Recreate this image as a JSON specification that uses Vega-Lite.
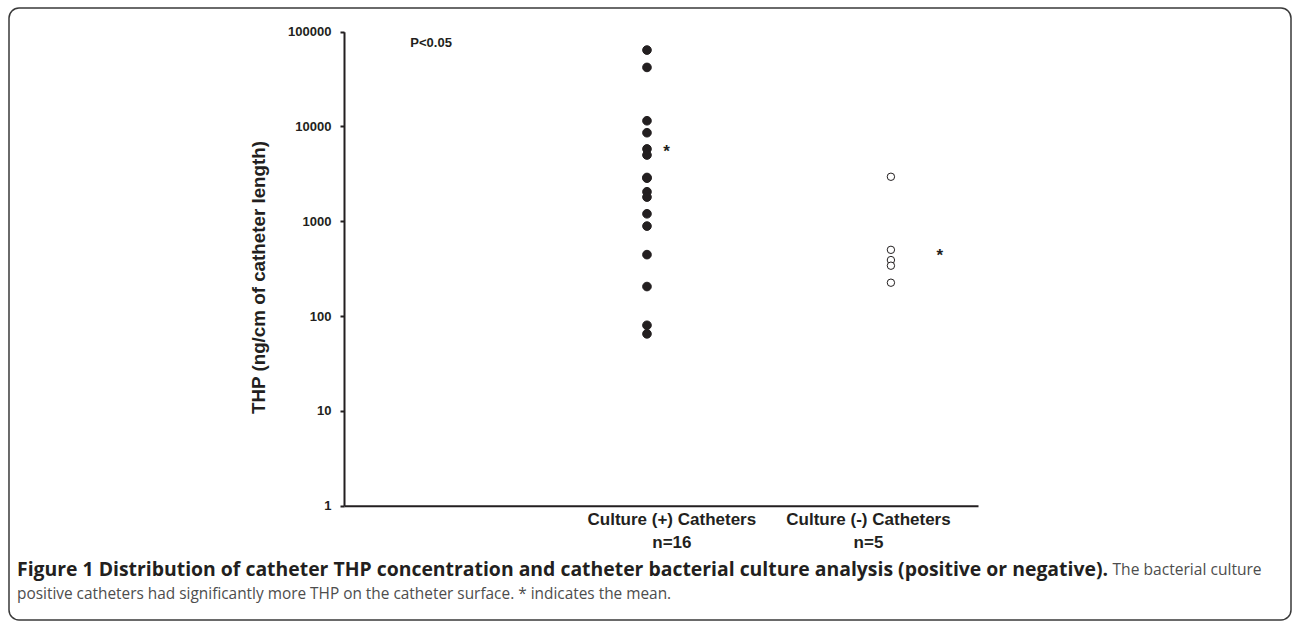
{
  "$schema": "https://vega.github.io/schema/vega-lite/v6.json",
  "width": 1282,
  "height": 612,
  "autosize": "none",
  "padding": {"left": 9, "top": 8, "right": 1, "bottom": 1},
  "background": "white",
  "config": {
    "view": {"stroke": "#3a3a3a", "strokeWidth": 1.5, "cornerRadius": 10},
    "font": "Liberation Sans"
  },
  "title": {
    "text": "Figure 1 Distribution of catheter THP concentration and catheter bacterial culture analysis (positive or negative).",
    "subtitle": "positive catheters had significantly more THP on the catheter surface. * indicates the mean.",
    "orient": "bottom",
    "anchor": "start",
    "offset": -44,
    "dx": 8,
    "baseline": "alphabetic",
    "font": "Open Sans",
    "fontSize": 19.4,
    "fontWeight": "bold",
    "color": "#231f20",
    "subtitleFont": "Open Sans",
    "subtitleFontSize": 15.4,
    "subtitleFontWeight": "normal",
    "subtitleColor": "#4d4d4d",
    "subtitlePadding": 4
  },
  "datasets": {
    "thp": [
      {"group": "Culture (+)", "x": 1, "thp": 64000},
      {"group": "Culture (+)", "x": 1, "thp": 42000},
      {"group": "Culture (+)", "x": 1, "thp": 11500},
      {"group": "Culture (+)", "x": 1, "thp": 8600},
      {"group": "Culture (+)", "x": 1, "thp": 5800},
      {"group": "Culture (+)", "x": 1, "thp": 5000},
      {"group": "Culture (+)", "x": 1, "thp": 2900},
      {"group": "Culture (+)", "x": 1, "thp": 2850},
      {"group": "Culture (+)", "x": 1, "thp": 2050},
      {"group": "Culture (+)", "x": 1, "thp": 1800},
      {"group": "Culture (+)", "x": 1, "thp": 1200},
      {"group": "Culture (+)", "x": 1, "thp": 890},
      {"group": "Culture (+)", "x": 1, "thp": 445},
      {"group": "Culture (+)", "x": 1, "thp": 205},
      {"group": "Culture (+)", "x": 1, "thp": 80},
      {"group": "Culture (+)", "x": 1, "thp": 65},
      {"group": "Culture (-)", "x": 2, "thp": 2950},
      {"group": "Culture (-)", "x": 2, "thp": 500},
      {"group": "Culture (-)", "x": 2, "thp": 390},
      {"group": "Culture (-)", "x": 2, "thp": 340},
      {"group": "Culture (-)", "x": 2, "thp": 225}
    ],
    "means": [
      {"group": "Culture (+)", "x": 1.08, "thp": 6100, "label": "*"},
      {"group": "Culture (-)", "x": 2.2, "thp": 490, "label": "*"}
    ],
    "notes": [
      {"label": "P<0.05", "x": 0.03, "thp": 76000}
    ]
  },
  "encoding": {
    "x": {
      "field": "x",
      "type": "quantitative",
      "scale": {"domain": [-0.242, 2.357], "range": [335, 969], "nice": false, "zero": false},
      "axis": {
        "offset": -114.3,
        "values": [1.1, 1.906],
        "labelExpr": "datum.value < 1.5 ? ['Culture (+) Catheters', 'n=16'] : ['Culture (-) Catheters', 'n=5']",
        "ticks": false,
        "tickSize": 0,
        "grid": false,
        "domainColor": "#231f20",
        "domainWidth": 2,
        "labelFont": "Liberation Sans",
        "labelFontWeight": "bold",
        "labelFontSize": 17,
        "labelLineHeight": 23,
        "labelColor": "#231f20",
        "labelPadding": 6,
        "labelOverlap": false,
        "labelFlush": false,
        "labelBound": false,
        "title": "The bacterial culture",
        "titleX": 1103,
        "titleY": 69,
        "titleAlign": "left",
        "titleAnchor": null,
        "titleBaseline": "alphabetic",
        "titleFont": "Open Sans",
        "titleFontWeight": "normal",
        "titleFontSize": 15.6,
        "titleColor": "#4d4d4d"
      }
    },
    "y": {
      "field": "thp",
      "type": "quantitative",
      "scale": {"type": "log", "domain": [1, 100000], "range": [497.7, 23.7], "nice": false},
      "axis": {
        "offset": -335,
        "values": [1, 10, 100, 1000, 10000, 100000],
        "format": "d",
        "grid": false,
        "domainColor": "#231f20",
        "domainWidth": 2,
        "tickColor": "#231f20",
        "tickWidth": 2,
        "tickSize": 4,
        "labelFont": "Liberation Sans",
        "labelFontWeight": "bold",
        "labelFontSize": 13,
        "labelColor": "#231f20",
        "labelPadding": 9,
        "title": "THP (ng/cm of catheter length)",
        "titleFont": "Liberation Sans",
        "titleFontWeight": "bold",
        "titleFontSize": 18.8,
        "titleColor": "#231f20",
        "titlePadding": 19,
        "titleY": 269
      }
    }
  },
  "layer": [
    {
      "data": {"name": "thp"},
      "mark": {"type": "point", "shape": "circle", "filled": true, "stroke": "#231f20", "strokeWidth": 1, "opacity": 1, "clip": false},
      "encoding": {
        "fill": {"field": "group", "type": "nominal", "scale": {"domain": ["Culture (+)", "Culture (-)"], "range": ["#231f20", "#ffffff"]}, "legend": null},
        "size": {"field": "group", "type": "nominal", "scale": {"domain": ["Culture (+)", "Culture (-)"], "range": [75, 55]}, "legend": null}
      }
    },
    {
      "data": {"name": "means"},
      "mark": {"type": "text", "dy": 5, "align": "center", "baseline": "middle", "font": "Liberation Sans", "fontWeight": "bold", "fontSize": 17, "color": "#231f20"},
      "encoding": {"text": {"field": "label"}}
    },
    {
      "data": {"name": "notes"},
      "mark": {"type": "text", "align": "left", "baseline": "middle", "font": "Liberation Sans", "fontWeight": "bold", "fontSize": 13, "color": "#231f20"},
      "encoding": {"text": {"field": "label"}}
    }
  ]
}
